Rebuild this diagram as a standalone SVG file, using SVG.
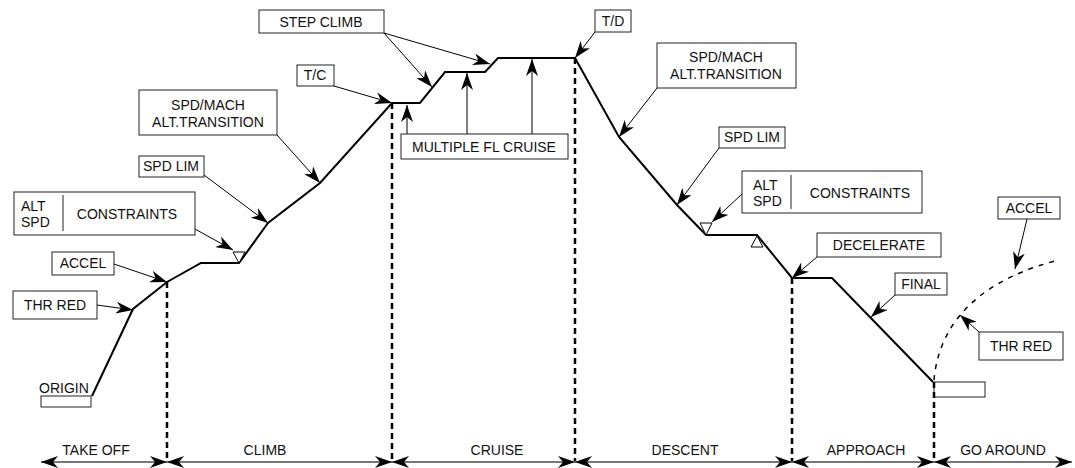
<svg xmlns="http://www.w3.org/2000/svg" width="1075" height="468" viewBox="0 0 1075 468">
<style>
.box{fill:#fff;stroke:#222;stroke-width:1}
.t{font-family:"Liberation Sans",Arial,sans-serif;font-size:14px;fill:#111}
.c{text-anchor:middle}
.lead{fill:none;stroke:#000;stroke-width:1;marker-end:url(#ah)}
.up{fill:none;stroke:#555;stroke-width:1.5;marker-end:url(#ah)}
.path{fill:none;stroke:#000;stroke-width:2;stroke-linejoin:miter}
.dash{fill:none;stroke:#000;stroke-width:2.5;stroke-dasharray:6,4}
.axis{fill:none;stroke:#777;stroke-width:2;marker-start:url(#ax);marker-end:url(#ax)}
.tri{fill:#fff;stroke:#000;stroke-width:1}
</style>
<defs>
<marker id="ah" markerUnits="userSpaceOnUse" viewBox="0 0 17 12" markerWidth="17" markerHeight="12" refX="17" refY="6" orient="auto">
<path d="M0,0 L17,6 L0,12 L5,6 z" fill="#000"/>
</marker>
<marker id="ax" markerUnits="userSpaceOnUse" viewBox="0 0 17 12" markerWidth="17" markerHeight="12" refX="17" refY="6" orient="auto-start-reverse">
<path d="M0,0 L17,6 L0,12 L5,6 z" fill="#000"/>
</marker>
</defs>

<g id="profile">
<polyline class="path" points="92,396 133,309 167,282 201,263 239,263 268,223 320,183 392,103 420,103 445,72 485,72 498,58 575,58 619,137 677,205 706,235 757,235 792,278 832,278 933,382"/>
<path d="M934,380 C938,335 965,285 1055,261" fill="none" stroke="#000" stroke-width="1.5" stroke-dasharray="5,6"/>
<polygon class="tri" points="233,252 245,252 239,263"/>
<polygon class="tri" points="700,223 712,223 706,235"/>
<polygon class="tri" points="751,247 763,247 757,236"/>
<rect class="box" x="41" y="396" width="50" height="11"/>
<rect class="box" x="934" y="382" width="51" height="15"/>
</g>

<g id="connectors">
<line class="dash" x1="167" y1="282" x2="167" y2="462"/>
<line class="dash" x1="392" y1="103" x2="392" y2="462"/>
<line class="dash" x1="575" y1="58" x2="575" y2="462"/>
<line class="dash" x1="792" y1="278" x2="792" y2="462"/>
<line class="dash" x1="934" y1="382" x2="934" y2="462"/>
<line class="lead" x1="97" y1="305" x2="133" y2="310"/>
<line class="lead" x1="114" y1="264" x2="167" y2="282"/>
<line class="lead" x1="195" y1="229" x2="233" y2="250"/>
<line class="lead" x1="204" y1="175" x2="268" y2="223"/>
<line class="lead" x1="277" y1="135" x2="320" y2="183"/>
<line class="lead" x1="334" y1="86" x2="392" y2="103"/>
<line class="lead" x1="384" y1="33" x2="432" y2="87"/>
<line class="lead" x1="384" y1="33" x2="490" y2="64"/>
<line class="up" x1="407" y1="134" x2="407" y2="105"/>
<line class="up" x1="467" y1="134" x2="467" y2="73"/>
<line class="up" x1="532" y1="134" x2="532" y2="59"/>
<line class="lead" x1="595" y1="32" x2="575" y2="58"/>
<line class="lead" x1="657" y1="88" x2="619" y2="137"/>
<line class="lead" x1="719" y1="148" x2="677" y2="205"/>
<line class="lead" x1="742" y1="194" x2="712" y2="222"/>
<line class="lead" x1="817" y1="257" x2="792" y2="278"/>
<line class="lead" x1="895" y1="295" x2="871" y2="317"/>
<line class="lead" x1="1027" y1="219" x2="1015" y2="269"/>
<line class="lead" x1="979" y1="332" x2="960" y2="315"/>
<line class="axis" x1="41" y1="462" x2="167" y2="462"/>
<line class="axis" x1="167" y1="462" x2="392" y2="462"/>
<line class="axis" x1="392" y1="462" x2="575" y2="462"/>
<line class="axis" x1="575" y1="462" x2="792" y2="462"/>
<line class="axis" x1="792" y1="462" x2="934" y2="462"/>
<line class="axis" x1="934" y1="462" x2="1072" y2="462"/>
</g>

<g id="origin"><text class="t" x="39" y="393">ORIGIN</text></g>
<g id="thrred1"><rect class="box" x="13" y="291" width="84" height="28"/><text class="t c" x="55" y="310">THR RED</text></g>
<g id="accel1"><rect class="box" x="52" y="252" width="62" height="23"/><text class="t c" x="83" y="268">ACCEL</text></g>
<g id="constraints1"><rect class="box" x="14" y="192" width="181" height="43"/><line x1="63" y1="195" x2="63" y2="231" stroke="#222" stroke-width="1"/><text class="t" x="21" y="211">ALT</text><text class="t" x="21" y="227">SPD</text><text class="t c" x="127" y="219">CONSTRAINTS</text></g>
<g id="spdlim1"><rect class="box" x="139" y="156" width="65" height="21"/><text class="t c" x="171" y="171">SPD LIM</text></g>
<g id="spdmach1"><rect class="box" x="139" y="90" width="138" height="45"/><text class="t c" x="208" y="110">SPD/MACH</text><text class="t c" x="208" y="127">ALT.TRANSITION</text></g>
<g id="tc"><rect class="box" x="297" y="65" width="37" height="21"/><text class="t c" x="315" y="80">T/C</text></g>
<g id="stepclimb"><rect class="box" x="259" y="10" width="125" height="23"/><text class="t c" x="321" y="27">STEP CLIMB</text></g>
<g id="multifl"><rect class="box" x="401" y="134" width="167" height="25"/><text class="t c" x="484" y="152">MULTIPLE FL CRUISE</text></g>
<g id="td"><rect class="box" x="595" y="10" width="36" height="22"/><text class="t c" x="613" y="26">T/D</text></g>
<g id="spdmach2"><rect class="box" x="657" y="43" width="139" height="45"/><text class="t c" x="726" y="62">SPD/MACH</text><text class="t c" x="726" y="79">ALT.TRANSITION</text></g>
<g id="spdlim2"><rect class="box" x="719" y="127" width="66" height="21"/><text class="t c" x="752" y="142">SPD LIM</text></g>
<g id="constraints2"><rect class="box" x="742" y="171" width="180" height="42"/><line x1="791" y1="175" x2="791" y2="209" stroke="#222" stroke-width="1"/><text class="t" x="753" y="190">ALT</text><text class="t" x="753" y="206">SPD</text><text class="t c" x="860" y="198">CONSTRAINTS</text></g>
<g id="decelerate"><rect class="box" x="817" y="233" width="124" height="24"/><text class="t c" x="879" y="250">DECELERATE</text></g>
<g id="final"><rect class="box" x="895" y="273" width="52" height="22"/><text class="t c" x="921" y="289">FINAL</text></g>
<g id="accel2"><rect class="box" x="998" y="197" width="62" height="22"/><text class="t c" x="1029" y="213">ACCEL</text></g>
<g id="thrred2"><rect class="box" x="979" y="332" width="84" height="28"/><text class="t c" x="1021" y="351">THR RED</text></g>

<g id="phases">
<text class="t c" x="96" y="455">TAKE OFF</text>
<text class="t c" x="265" y="455">CLIMB</text>
<text class="t c" x="497" y="455">CRUISE</text>
<text class="t c" x="685" y="455">DESCENT</text>
<text class="t c" x="866" y="455">APPROACH</text>
<text class="t c" x="1003" y="455">GO AROUND</text>
</g>
</svg>
